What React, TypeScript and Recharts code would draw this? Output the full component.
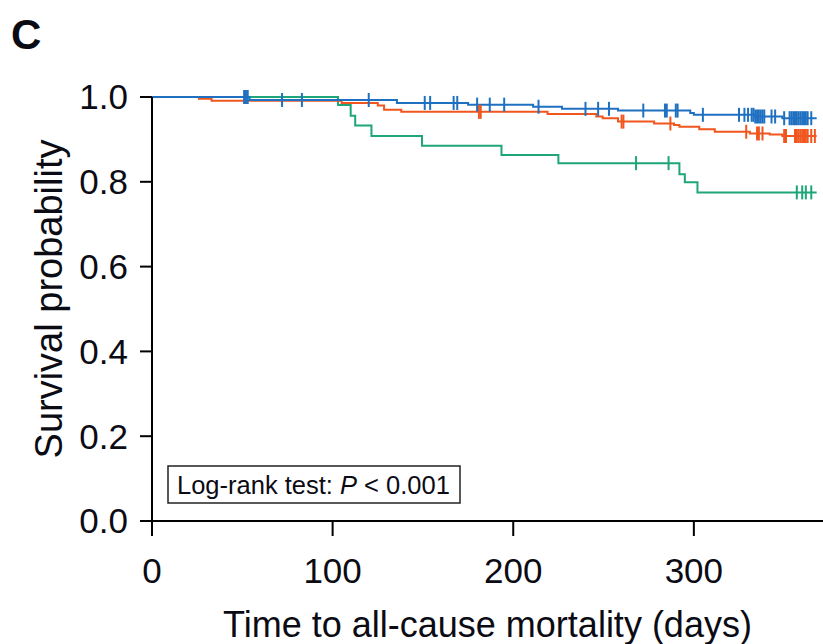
import React from 'react';
import { ComposedChart, Line, Scatter, XAxis, YAxis, Label } from 'recharts';

// Kaplan-Meier steps (days, survival)
const blueTimes = [0, 54, 135.6, 175, 211, 227, 258, 298, 300, 334, 349, 368];
const blueSurv = [1.0, 0.993, 0.986, 0.982, 0.977, 0.972, 0.968, 0.962, 0.958, 0.954, 0.95, 0.95];

const orangeTimes = [0, 26, 33, 105, 125, 128.5, 138, 219, 246, 249.5, 258, 278, 289, 292, 303, 311.6, 331, 342, 349, 368];
const orangeSurv = [1.0, 0.996, 0.991, 0.986, 0.98, 0.97, 0.965, 0.96, 0.954, 0.95, 0.942, 0.9375, 0.934, 0.93, 0.924, 0.918, 0.914, 0.9115, 0.908, 0.908];

const greenTimes = [0, 103, 110, 112.5, 121.5, 149.5, 193.5, 225, 292, 295, 302, 368];
const greenSurv = [1.0, 0.981, 0.956, 0.933, 0.908, 0.885, 0.863, 0.844, 0.818, 0.799, 0.775, 0.775];

// censoring marks (days)
const blueCensor = [51, 52, 53, 72, 83, 120, 151, 154, 167, 169, 180, 187, 195, 214, 240, 247, 253, 272, 284, 285, 290, 291, 305, 325, 328, 330, 332, 333, 334, 335, 336, 337, 338, 339, 343, 345, 350, 353, 354, 355, 356, 357, 358, 359, 360, 361, 362, 363, 365];
const orangeCensor = [181, 182, 260, 261, 287, 329, 335, 336, 338, 350, 351, 356, 357, 358, 359, 360, 361, 362, 363, 365, 367];
const greenCensor = [268, 286, 357, 360, 362, 365];

const xTicks = [0, 100, 200, 300];
const yTicks = [0, 0.2, 0.4, 0.6, 0.8, 1.0];

const BLUE = '#1f70c1';
const ORANGE = '#f0561e';
const GREEN = '#1ea578';
const INK = '#0b0b14';
const FONT = '"Liberation Sans", Arial, Helvetica, sans-serif';

const toSteps = (times: number[], surv: number[]) => times.map((t, i) => ({ t, s: surv[i] }));

// survival value of the curve at time t (step lookup)
const survAt = (times: number[], surv: number[], t: number) => {
  let v = surv[0];
  times.forEach((tt, i) => {
    if (tt <= t) v = surv[i];
  });
  return v;
};

const toMarks = (cens: number[], times: number[], surv: number[]) =>
  cens.map(t => ({ t, s: survAt(times, surv, t) }));

const censorShape = (color: string) => (props: any) => (
  <line x1={props.cx} x2={props.cx} y1={props.cy - 7} y2={props.cy + 7} stroke={color} strokeWidth={2} />
);

export default function App() {
  const blue = toSteps(blueTimes, blueSurv);
  const orange = toSteps(orangeTimes, orangeSurv);
  const green = toSteps(greenTimes, greenSurv);

  return (
    <div style={{ position: 'absolute', left: 0, top: 0, width: 823, height: 644, background: '#fff', fontFamily: FONT }}>
      <ComposedChart width={823} height={644} margin={{ top: 97, right: 0, bottom: 0, left: 0 }}>
        <XAxis
          dataKey="t"
          type="number"
          domain={[0, 371.5]}
          allowDataOverflow
          ticks={xTicks}
          tickSize={15}
          tickMargin={22}
          height={123}
          stroke="#000"
          strokeWidth={2}
          tick={{ fontSize: 35, fill: INK, fontFamily: FONT }}
        >
          <Label
            content={(props: any) => {
              const vb = props.viewBox;
              return (
                <text x={vb.x + vb.width / 2} y={637} textAnchor="middle" fontSize={36} fill={INK} fontFamily={FONT}>
                  Time to all-cause mortality (days)
                </text>
              );
            }}
          />
        </XAxis>
        <YAxis
          type="number"
          domain={[0, 1]}
          ticks={yTicks}
          tickFormatter={(v: number) => v.toFixed(1)}
          width={152}
          tickSize={12}
          tickMargin={12}
          stroke="#000"
          strokeWidth={2}
          tick={{ fontSize: 35, fill: INK, fontFamily: FONT }}
        >
          <Label
            content={(props: any) => {
              const vb = props.viewBox;
              const cy = vb.y + vb.height / 2 - 10;
              return (
                <text x={62} y={cy} transform={`rotate(-90 62 ${cy})`} textAnchor="middle" fontSize={38} fill={INK} fontFamily={FONT}>
                  Survival probability
                </text>
              );
            }}
          />
        </YAxis>

        <Line data={green} dataKey="s" type="stepAfter" stroke={GREEN} strokeWidth={2} dot={false} activeDot={false} isAnimationActive={false} />
        <Line data={orange} dataKey="s" type="stepAfter" stroke={ORANGE} strokeWidth={2} dot={false} activeDot={false} isAnimationActive={false} />
        <Line data={blue} dataKey="s" type="stepAfter" stroke={BLUE} strokeWidth={2} dot={false} activeDot={false} isAnimationActive={false} />

        <Scatter data={toMarks(greenCensor, greenTimes, greenSurv)} dataKey="s" shape={censorShape(GREEN)} isAnimationActive={false} />
        <Scatter data={toMarks(orangeCensor, orangeTimes, orangeSurv)} dataKey="s" shape={censorShape(ORANGE)} isAnimationActive={false} />
        <Scatter data={toMarks(blueCensor, blueTimes, blueSurv)} dataKey="s" shape={censorShape(BLUE)} isAnimationActive={false} />
      </ComposedChart>

      {/* panel letter and test annotation */}
      <svg width={823} height={644} style={{ position: 'absolute', left: 0, top: 0, pointerEvents: 'none' }}>
        <text x={11} y={49} fontSize={42} fontWeight="bold" fill={INK} fontFamily={FONT}>C</text>
        <rect x={168} y={466} width={292} height={37} fill="#fff" stroke="#222" strokeWidth={1.5} />
        <text x={177} y={494} fontSize={25.5} fill={INK} fontFamily={FONT}>
          Log-rank test: <tspan fontStyle="italic">P</tspan> &lt; 0.001
        </text>
      </svg>
    </div>
  );
}
